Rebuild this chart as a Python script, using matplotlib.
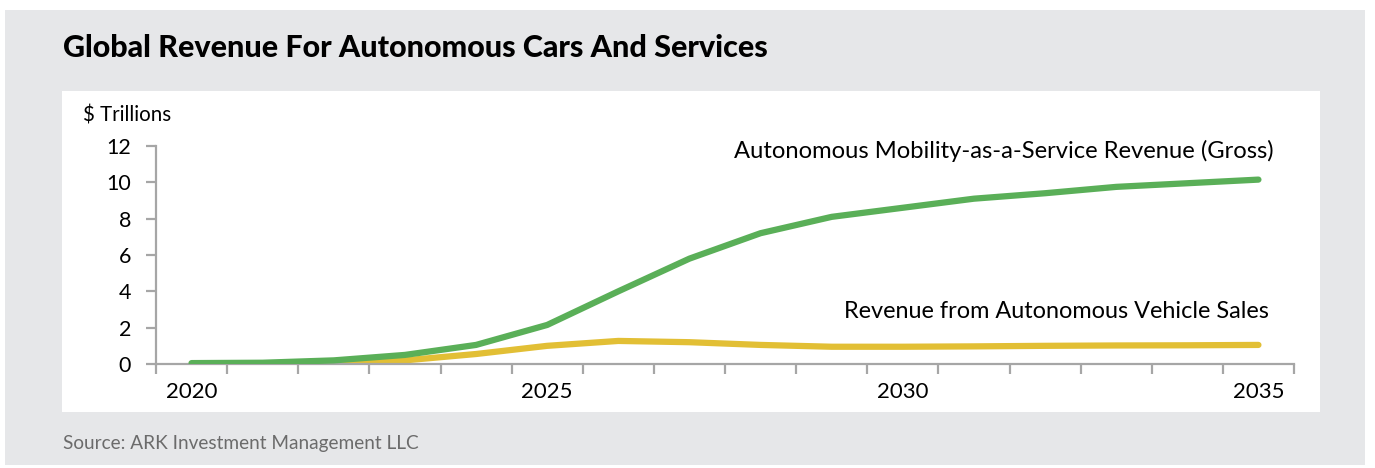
import numpy as np
import matplotlib
matplotlib.use("Agg")
import matplotlib.pyplot as plt
from matplotlib.patches import Rectangle

# data ($ trillions)
years = list(range(2020, 2036))
maas_revenue = [0.05, 0.07, 0.2, 0.5, 1.05, 2.15, 4.0, 5.8, 7.2, 8.1, 8.6, 9.1, 9.4, 9.75, 9.95, 10.15]
vehicle_sales = [0.0, 0.0, 0.05, 0.2, 0.55, 1.0, 1.27, 1.2, 1.05, 0.95, 0.95, 0.97, 1.0, 1.02, 1.03, 1.05]
tick_labels = ["2020", "2025", "2030", "2035"]
y_ticks = [0, 2, 4, 6, 8, 10, 12]

W, H = 1375, 468
GREEN = "#5aaf58"
YELLOW = "#e2bf35"
AXIS = "#a6a6a6"

plt.rcParams['font.family'] = ['Lato', 'DejaVu Sans']

fig = plt.figure(figsize=(W / 100, H / 100), dpi=100)
fig.patch.set_facecolor("white")

# grey card and white plot panel
fig.patches.append(Rectangle((5 / W, 1 - 465 / H), 1360 / W, 455 / H,
                             transform=fig.transFigure, facecolor="#e6e7e9",
                             edgecolor="none", zorder=-10))
fig.patches.append(Rectangle((62 / W, 1 - 412 / H), 1258 / W, 321 / H,
                             transform=fig.transFigure, facecolor="white",
                             edgecolor="none", zorder=-9))

left, right = 156, 1294
top, bottom = 146, 364
ax = fig.add_axes([left / W, 1 - bottom / H, (right - left) / W, (bottom - top) / H])
ax.set_facecolor("none")
ax.set_zorder(5)

x = np.arange(len(years))
ax.plot(x, maas_revenue, color=GREEN, lw=4.5, solid_capstyle="round",
        solid_joinstyle="round", zorder=3)
ax.plot(x, vehicle_sales, color=YELLOW, lw=4.5, solid_capstyle="round",
        solid_joinstyle="round", zorder=2)

ax.set_xlim(-0.5, len(years) - 0.5)
ax.set_ylim(0, 12)

for s in ["top", "right"]:
    ax.spines[s].set_visible(False)
for s in ["left", "bottom"]:
    ax.spines[s].set_color(AXIS)
    ax.spines[s].set_linewidth(1.6)

ax.set_yticks(y_ticks)
ax.set_yticklabels([str(v) for v in y_ticks], fontsize=15.5)
ax.tick_params(axis="y", length=7, width=1.6, color=AXIS, pad=11, labelcolor="black")

# category boundaries carry the ticks, labels sit in the middle
ax.set_xticks(np.arange(-0.5, len(years), 1.0))
ax.set_xticklabels([])
ax.tick_params(axis="x", length=7, width=1.6, color=AXIS)
for lab in tick_labels:
    ax.text(years.index(int(lab)), -1.0, lab, ha="center", va="top",
            fontsize=16, transform=ax.transData, clip_on=False)

fig.text(83 / W, 1 - 115 / H, "$ Trillions", ha="left", va="center", fontsize=14.8)

ax.text(15.22, 11.75, "Autonomous Mobility-as-a-Service Revenue (Gross)",
        ha="right", va="center", fontsize=17.1)
ax.text(15.15, 2.9, "Revenue from Autonomous Vehicle Sales",
        ha="right", va="center", fontsize=16.9)

fig.text(63 / W, 1 - 48 / H, "Global Revenue For Autonomous Cars And Services",
         ha="left", va="center", fontsize=22, fontweight="black")
fig.text(63 / W, 1 - 443 / H, "Source: ARK Investment Management LLC",
         ha="left", va="center", fontsize=13.7, color="#6b6b6b")

fig.savefig("out.png", dpi=100)
